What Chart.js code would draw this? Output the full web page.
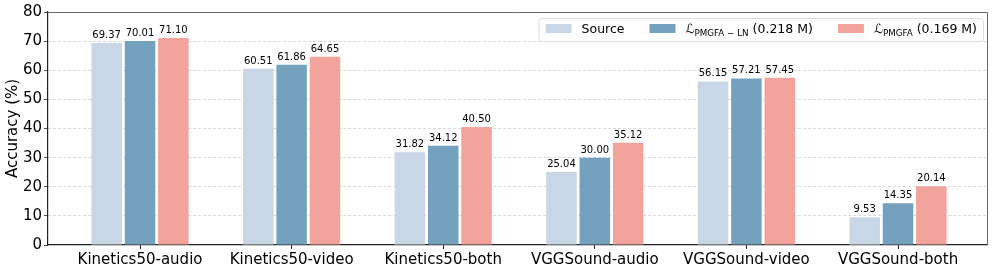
<!DOCTYPE html>
<html>
<head>
<meta charset="utf-8">
<script src="https://cdn.jsdelivr.net/npm/chart.js@4.4.0/dist/chart.umd.min.js"></script>
<style>
    html, body { margin: 0; padding: 0; background: #ffffff; }
</style>
</head>
<body>
<canvas id="accChart" width="996" height="272"></canvas>
<script>
// ==================== Data ====================
const categories = ['Kinetics50-audio', 'Kinetics50-video', 'Kinetics50-both', 'VGGSound-audio', 'VGGSound-video', 'VGGSound-both'];
const sourceAcc = [69.37, 60.51, 31.82, 25.04, 56.15, 9.53];
const pmgfaLnAcc = [70.01, 61.86, 34.12, 30.00, 57.21, 14.35];
const pmgfaAcc = [71.10, 64.65, 40.50, 35.12, 57.45, 20.14];
const yTickValues = [0, 10, 20, 30, 40, 50, 60, 70, 80];
const seriesLabels = ['Source', 'ℒ_{PMGFA − LN} (0.218 M)', 'ℒ_{PMGFA} (0.169 M)'];
const seriesColors = ['#c8d6e5', '#74a1bd', '#f2a39b'];

const FONT = '"DejaVu Sans", sans-serif';

function toPoints(values) {
    return values.map((v, i) => ({ x: i, y: v }));
}

// draws "main_{sub} rest" with a lowered, smaller subscript; returns width
function drawRichText(ctx, text, x, y, size, measureOnly) {
    const m = text.match(/^(.*?)_\{(.*?)\}(.*)$/);
    const parts = m
        ? [[m[1], size, 0], [m[2], size * 0.7, size * 0.25], [m[3], size, 0]]
        : [[text, size, 0]];
    let w = 0;
    parts.forEach(([t, s, dy]) => {
        ctx.font = s + 'px ' + FONT;
        if (!measureOnly) ctx.fillText(t, x + w, y + dy);
        w += ctx.measureText(t).width;
    });
    return w;
}

// no extra label padding, the frame must stay where it is
function noPadding(s) {
    s.paddingLeft = 0;
    s.paddingRight = 0;
    s.paddingTop = 0;
    s.paddingBottom = 0;
}

// ==================== Plugins ====================
const valueLabels = {
    id: 'valueLabels',
    afterDatasetsDraw(chart) {
        const ctx = chart.ctx;
        ctx.save();
        ctx.font = '10px ' + FONT;
        ctx.fillStyle = '#000';
        ctx.textAlign = 'center';
        ctx.textBaseline = 'alphabetic';
        chart.data.datasets.forEach((ds, di) => {
            chart.getDatasetMeta(di).data.forEach((bar, i) => {
                ctx.fillText(ds.data[i].y.toFixed(2), bar.x, bar.y - 5);
            });
        });
        ctx.restore();
    }
};

const frameAndLegend = {
    id: 'frameAndLegend',
    afterDraw(chart) {
        const { ctx, chartArea: a } = chart;
        ctx.save();

        // top and right spines
        ctx.strokeStyle = '#666';
        ctx.lineWidth = 1;
        ctx.beginPath();
        ctx.moveTo(a.left, a.top + 0.5);
        ctx.lineTo(a.right + 0.5, a.top + 0.5);
        ctx.lineTo(a.right + 0.5, a.bottom);
        ctx.stroke();

        // legend
        const fs = 12.5, handle = 26, gap = 10, colGap = 25;
        const widths = seriesLabels.map(l => drawRichText(ctx, l, 0, 0, fs, true));
        const contentW = widths.reduce((s, w) => s + handle + gap + w, 0) + colGap * (seriesLabels.length - 1);
        const boxRight = a.right - 4;
        const contentRight = boxRight - 6;
        const boxLeft = contentRight - contentW - 7;
        const boxTop = 18, boxH = 23;

        ctx.fillStyle = 'rgba(255,255,255,0.9)';
        ctx.strokeStyle = '#dcdcdc';
        ctx.beginPath();
        ctx.roundRect(boxLeft + 0.5, boxTop + 0.5, boxRight - boxLeft, boxH, 3);
        ctx.fill();
        ctx.stroke();

        let x = contentRight - contentW;
        ctx.textBaseline = 'alphabetic';
        ctx.textAlign = 'left';
        seriesLabels.forEach((label, i) => {
            ctx.fillStyle = seriesColors[i];
            ctx.fillRect(x, 24, handle, 9);
            ctx.fillStyle = '#000';
            drawRichText(ctx, label, x + handle + gap, 32.5, fs, false);
            x += handle + gap + widths[i] + colGap;
        });
        ctx.restore();
    }
};

// ==================== Chart ====================
const ctx = document.getElementById('accChart').getContext('2d');

new Chart(ctx, {
    type: 'bar',
    data: {
        datasets: [
            { label: seriesLabels[0], data: toPoints(sourceAcc), backgroundColor: seriesColors[0] },
            { label: seriesLabels[1], data: toPoints(pmgfaLnAcc), backgroundColor: seriesColors[1] },
            { label: seriesLabels[2], data: toPoints(pmgfaAcc), backgroundColor: seriesColors[2] }
        ]
    },
    options: {
        responsive: false,
        animation: false,
        categoryPercentage: 0.66,
        barPercentage: 0.915,
        layout: { padding: { top: 12, right: 9, left: 0, bottom: 0 } },
        plugins: {
            legend: { display: false },
            tooltip: { enabled: false }
        },
        scales: {
            x: {
                type: 'linear',
                min: -0.607,
                max: 5.587,
                offset: false,
                afterBuildTicks: s => { s.ticks = categories.map((_, i) => ({ value: i })); },
                afterFit: s => { s.height = 27; noPadding(s); },
                ticks: {
                    autoSkip: false,
                    maxRotation: 0,
                    padding: 2,
                    color: '#000',
                    font: { family: FONT, size: 15 },
                    callback: v => categories[v]
                },
                grid: {
                    offset: false,
                    drawOnChartArea: false,
                    drawTicks: true,
                    tickLength: 4,
                    tickColor: '#222'
                },
                border: { color: '#222', width: 1.2 }
            },
            y: {
                min: 0,
                max: 80,
                afterBuildTicks: s => { s.ticks = yTickValues.map(v => ({ value: v })); },
                afterFit: s => { s.width = 48; noPadding(s); },
                ticks: {
                    padding: 2,
                    color: '#000',
                    font: { family: FONT, size: 15 }
                },
                title: {
                    display: true,
                    text: 'Accuracy (%)',
                    color: '#000',
                    font: { family: FONT, size: 15 },
                    padding: { top: 4, bottom: 0 }
                },
                grid: {
                    color: c => (c.tick && (c.tick.value === 0 || c.tick.value === 80)) ? 'rgba(0,0,0,0)' : '#cfcfcf',
                    lineWidth: 0.8,
                    tickLength: 4,
                    tickColor: '#222',
                    tickBorderDash: []
                },
                border: { color: '#222', width: 1.2, dash: [3, 2] }
            }
        }
    },
    plugins: [valueLabels, frameAndLegend]
});
</script>
</body>
</html>
